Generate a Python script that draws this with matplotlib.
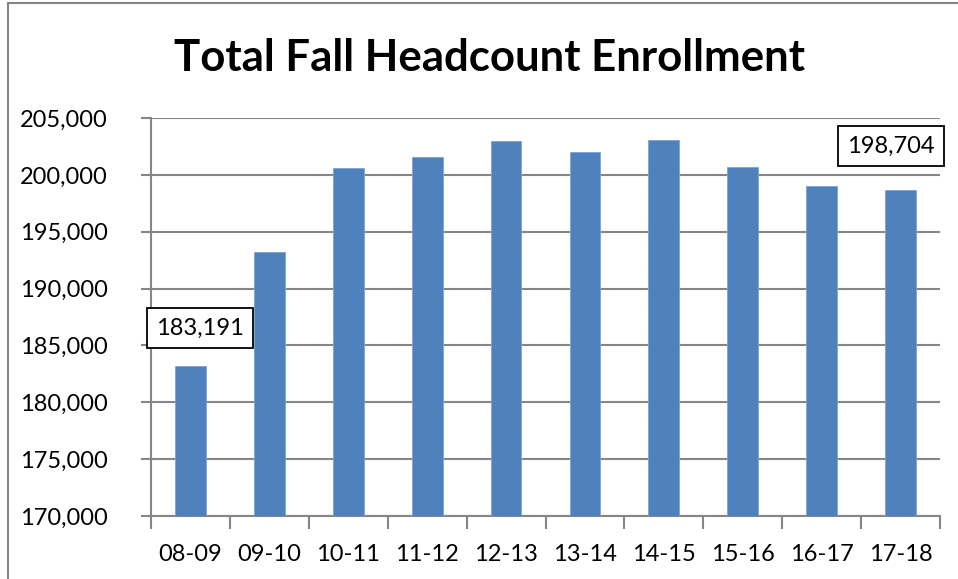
import matplotlib
matplotlib.use("Agg")
import matplotlib.pyplot as plt
from matplotlib.patches import Rectangle

categories = ["08-09", "09-10", "10-11", "11-12", "12-13", "13-14", "14-15", "15-16", "16-17", "17-18"]
values = [183191, 193180, 200625, 201540, 202950, 202030, 203090, 200690, 199015, 198704]
y_ticks = [170000, 175000, 180000, 185000, 190000, 195000, 200000, 205000]
title = "Total Fall Headcount Enrollment"

plt.rcParams['font.family'] = ['Lato', 'DejaVu Sans']

W, H = 958, 579
fig = plt.figure(figsize=(W / 100, H / 100), dpi=100)
ax = fig.add_axes([151 / W, 1 - 516 / H, (940 - 151) / W, (516 - 118) / H])

fs = 17
x = list(range(len(categories)))
ax.bar(x, values, width=0.39, color="#4F81BD", edgecolor="#7BA3D3", linewidth=0.6, zorder=3)
ax.set_xlim(-0.5, len(categories) - 0.5)
ax.set_ylim(y_ticks[0], y_ticks[-1])
ax.set_yticks(y_ticks)
ax.set_yticklabels([f"{v:,}" for v in y_ticks], fontsize=fs)
ax.set_xticks(x)
ax.set_xticklabels(categories, fontsize=fs)
ax.tick_params(axis='x', length=0, pad=20)
ax.tick_params(axis='y', length=7, width=1.5, color="#868686", pad=24)
# category boundary ticks
ax.set_xticks([i - 0.5 for i in range(len(categories) + 1)], minor=True)
ax.tick_params(axis='x', which='minor', length=9, width=1.5, color="#868686", direction='out')
ax.grid(axis='y', color="#868686", linewidth=1.5, zorder=0)
for s in ['top', 'right']:
    ax.spines[s].set_visible(False)
for s in ['left', 'bottom']:
    ax.spines[s].set_color("#868686")
    ax.spines[s].set_linewidth(1.5)

# annotations
ax.annotate(f"{values[0]:,}", xy=(0, values[0]), xytext=(200 / W, 1 - 328 / H), textcoords='figure fraction',
            ha='center', va='center', fontsize=fs,
            bbox=dict(boxstyle='square,pad=0.4', fc='white', ec='black', lw=1.3))
ax.annotate(f"{values[-1]:,}", xy=(9, values[-1]), xytext=(891 / W, 1 - 146 / H), textcoords='figure fraction',
            ha='center', va='center', fontsize=fs,
            bbox=dict(boxstyle='square,pad=0.4', fc='white', ec='black', lw=1.3))

fig.text(489 / W, 1 - 58 / H, title, ha='center', va='center', fontsize=31.5, fontweight='bold')

# chart border
fig.patches.append(Rectangle((8 / W, -0.1), 1.2, 1 - 3 / H + 0.1, transform=fig.transFigure,
                             fill=False, ec="#868686", lw=1.5))

fig.savefig("out.png", dpi=100)
